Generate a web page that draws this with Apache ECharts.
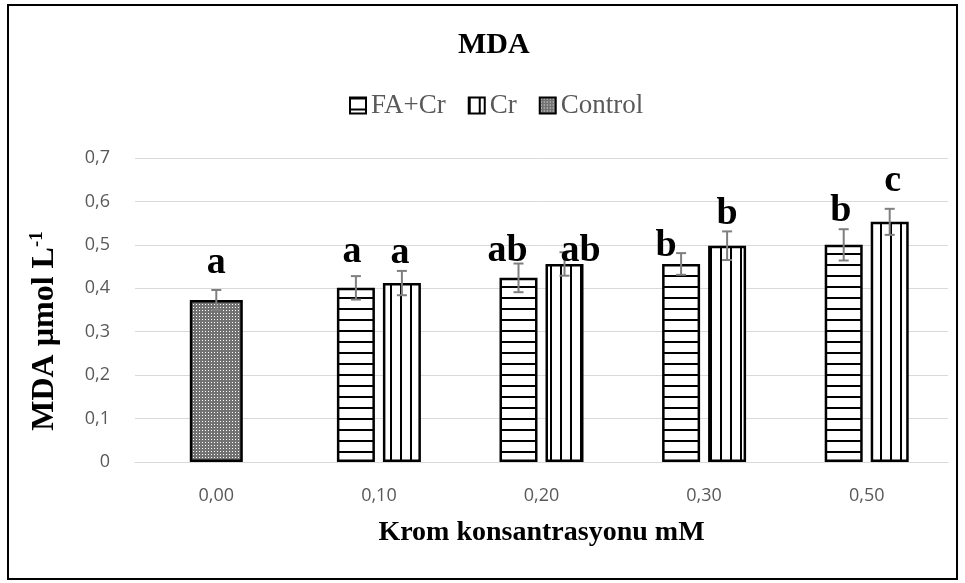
<!DOCTYPE html>
<html>
<head>
<meta charset="utf-8">
<script src="https://cdn.jsdelivr.net/npm/echarts@6/dist/echarts.min.js"></script>
<style>
  html, body { margin: 0; padding: 0; background: #fff; }
  #main { width: 965px; height: 583px; }
</style>
</head>
<body>
<div id="main"></div>
<script>
// Krom konsantrasyonu (mM)
const categories = ["0,00", "0,10", "0,20", "0,30", "0,50"];

// MDA değerleri ve standart hata
const control = [0.373, null, null, null, null];
const controlErr = [0.023, null, null, null, null];
const faCr = [null, 0.401, 0.424, 0.456, 0.500];
const faCrErr = [null, 0.027, 0.033, 0.025, 0.036];
const cr = [null, 0.412, 0.456, 0.498, 0.553];
const crErr = [null, 0.028, 0.027, 0.033, 0.030];

// istatistik harfleri
const controlLetters = ["a", "", "", "", ""];
const faCrLetters = ["", "a", "ab", "b", "b"];
const crLetters = ["", "a", "ab", "b", "c"];

const yTicks = [0, 0.1, 0.2, 0.3, 0.4, 0.5, 0.6, 0.7];

// bar geometry
const BAR_W = 38;
const BAR_GAP = 8;
const SHIFT = (BAR_W + BAR_GAP) / 2;

// pattern fills
function makePattern(w, h, draw) {
  const c = document.createElement("canvas");
  c.width = w;
  c.height = h;
  draw(c.getContext("2d"));
  return c;
}
const horizPat = makePattern(4, 11, (ctx) => {
  ctx.fillStyle = "#fff";
  ctx.fillRect(0, 0, 4, 11);
  ctx.fillStyle = "#000";
  ctx.fillRect(0, 0, 4, 2);
});
const vertPat = makePattern(10, 4, (ctx) => {
  ctx.fillStyle = "#fff";
  ctx.fillRect(0, 0, 10, 4);
  ctx.fillStyle = "#000";
  ctx.fillRect(0, 0, 2, 4);
});
const checkPat = makePattern(3, 3, (ctx) => {
  ctx.fillStyle = "#727272";
  ctx.fillRect(0, 0, 3, 3);
  ctx.fillStyle = "#fff";
  ctx.fillRect(1, 1, 1, 1);
});

function toBarData(arr) {
  return arr.map((v) => (v == null ? "-" : v));
}
function toErrData(vals, errs) {
  const out = [];
  vals.forEach((v, i) => {
    if (v != null) out.push([i, v, errs[i]]);
  });
  return out;
}

// letter nudges in px [dx, dy] from the top of the error bar
const controlNudge = [[0, -27], [0, 0], [0, 0], [0, 0], [0, 0]];
const faCrNudge = [[0, 0], [-4, -24], [-11, -12], [-15, -7], [-3, -18]];
const crNudge = [[0, 0], [-2, -18], [16, -1], [0, -17], [3, -28]];

function errSeries(vals, errs, shift) {
  return {
    type: "custom",
    xAxisIndex: 0,
    z: 5,
    silent: true,
    data: toErrData(vals, errs),
    renderItem: function (params, api) {
      const i = api.value(0);
      const v = api.value(1);
      const e = api.value(2);
      const hi = api.coord([i, v + e]);
      const lo = api.coord([i, v - e]);
      const x = hi[0] + shift;
      const st = { stroke: "#7f7f7f", lineWidth: 2 };
      return {
        type: "group",
        children: [
          { type: "line", shape: { x1: x, y1: hi[1], x2: x, y2: lo[1] }, style: st },
          { type: "line", shape: { x1: x - 5, y1: hi[1], x2: x + 5, y2: hi[1] }, style: st },
          { type: "line", shape: { x1: x - 5, y1: lo[1], x2: x + 5, y2: lo[1] }, style: st },
        ],
      };
    },
  };
}

function letterSeries(vals, errs, letters, shift, nudge) {
  return {
    type: "custom",
    xAxisIndex: 0,
    z: 6,
    silent: true,
    data: toErrData(vals, errs),
    renderItem: function (params, api) {
      const i = api.value(0);
      const p = api.coord([i, api.value(1) + api.value(2)]);
      return {
        type: "text",
        x: p[0] + shift + nudge[i][0],
        y: p[1] + nudge[i][1],
        style: {
          text: letters[i],
          font: 'bold 38px "Liberation Serif"',
          fill: "#000",
          align: "center",
          verticalAlign: "middle",
        },
      };
    },
  };
}

const chart = echarts.init(document.getElementById("main"));
chart.setOption({
  animation: false,
  title: {
    text: "MDA",
    left: 453,
    top: 25,
    textStyle: {
      fontFamily: "Liberation Serif",
      fontWeight: "bold",
      fontSize: 30,
      color: "#000",
    },
  },
  legend: {
    data: ["FA+Cr", "Cr", "Control"],
    left: 344,
    top: 87,
    icon: "rect",
    itemWidth: 16,
    itemHeight: 16,
    itemGap: 22,
    textStyle: {
      fontFamily: "Liberation Serif",
      fontSize: 27,
      color: "#595959",
    },
  },
  grid: { left: 135, right: 17, top: 158, bottom: 121 },
  xAxis: [
    {
      type: "category",
      data: categories,
      axisTick: { show: false },
      axisLine: { lineStyle: { color: "#d9d9d9", width: 1 } },
      axisLabel: {
        margin: 25,
        fontFamily: "Open Sans",
        fontSize: 18,
        color: "#595959",
      },
      name: "Krom konsantrasyonu mM",
      nameLocation: "middle",
      nameGap: 57,
      nameTextStyle: {
        fontFamily: "Liberation Serif",
        fontWeight: "bold",
        fontSize: 28,
        color: "#000",
      },
    },
    { type: "category", data: categories, show: false },
  ],
  yAxis: {
    type: "value",
    min: 0,
    max: 0.7,
    interval: 0.1,
    axisLine: { show: false },
    axisTick: { show: false },
    splitLine: { lineStyle: { color: "#d9d9d9", width: 1 } },
    axisLabel: {
      margin: 25,
      fontFamily: "Open Sans",
      fontSize: 18,
      color: "#595959",
      formatter: function (v) {
        const t = yTicks.find((k) => Math.abs(k - v) < 1e-9);
        return t === 0 ? "0" : (t != null ? t : v).toFixed(1).replace(".", ",");
      },
    },
  },
  graphic: [
    {
      type: "rect",
      shape: { x: 8, y: 5, width: 949, height: 574 },
      style: { fill: "none", stroke: "#000", lineWidth: 2 },
      silent: true,
    },
    {
      type: "text",
      x: 45,
      y: 331,
      rotation: Math.PI / 2,
      style: {
        text: "{a|MDA µmol L}{s|-1}",
        align: "center",
        verticalAlign: "middle",
        rich: {
          a: {
            fontFamily: "Liberation Serif",
            fontWeight: "bold",
            fontSize: 32,
            color: "#000",
            lineHeight: 34,
          },
          s: {
            fontFamily: "Liberation Serif",
            fontWeight: "bold",
            fontSize: 19,
            color: "#000",
            verticalAlign: "top",
            lineHeight: 34,
            padding: [0, 0, 14, 0],
          },
        },
      },
    },
  ],
  series: [
    {
      name: "FA+Cr",
      type: "bar",
      xAxisIndex: 0,
      barWidth: BAR_W,
      barGap: (BAR_GAP / BAR_W) * 100 + "%",
      data: toBarData(faCr),
      itemStyle: {
        color: { image: horizPat, repeat: "repeat" },
        borderColor: "#000",
        borderWidth: 2.5,
      },
    },
    {
      name: "Cr",
      type: "bar",
      xAxisIndex: 0,
      barWidth: BAR_W,
      data: toBarData(cr),
      itemStyle: {
        color: { image: vertPat, repeat: "repeat" },
        borderColor: "#000",
        borderWidth: 2.5,
      },
    },
    {
      name: "Control",
      type: "bar",
      xAxisIndex: 1,
      barWidth: 53,
      data: toBarData(control),
      itemStyle: {
        color: { image: checkPat, repeat: "repeat" },
        borderColor: "#000",
        borderWidth: 2.5,
      },
    },
    errSeries(control, controlErr, 0),
    errSeries(faCr, faCrErr, -SHIFT),
    errSeries(cr, crErr, SHIFT),
    letterSeries(control, controlErr, controlLetters, 0, controlNudge),
    letterSeries(faCr, faCrErr, faCrLetters, -SHIFT, faCrNudge),
    letterSeries(cr, crErr, crLetters, SHIFT, crNudge),
  ],
});
</script>
</body>
</html>
